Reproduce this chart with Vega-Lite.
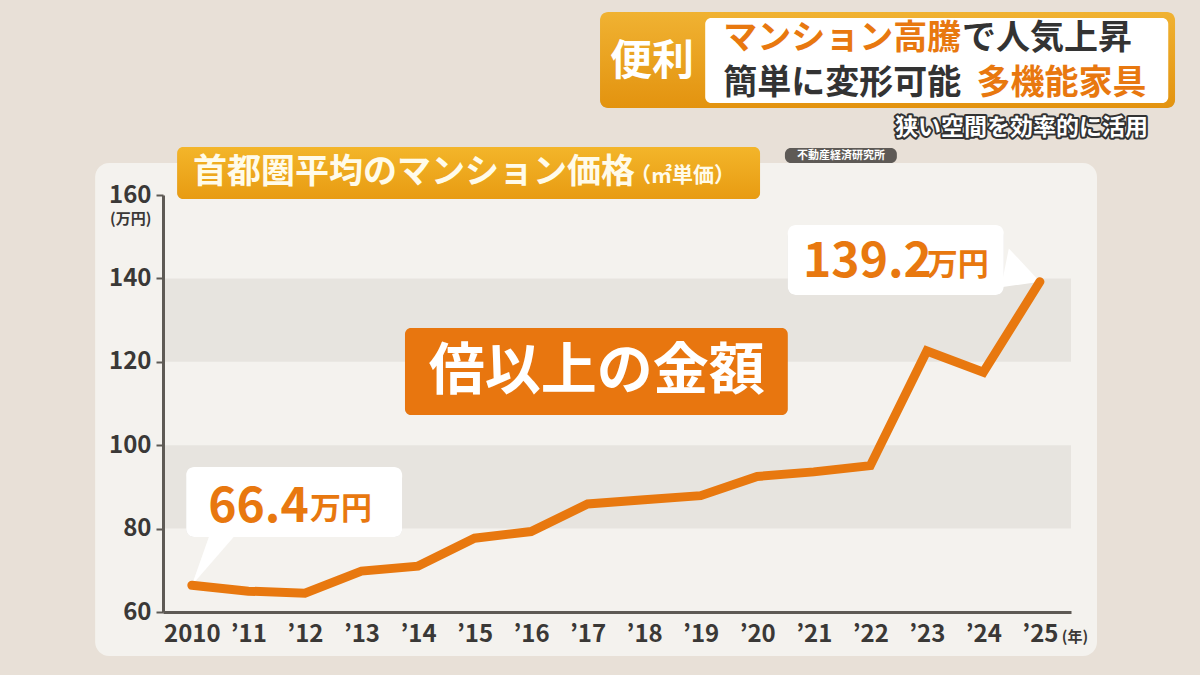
{
  "$schema": "https://vega.github.io/schema/vega-lite/v6.json",
  "width": 908,
  "height": 417,
  "autosize": {"type": "none"},
  "padding": {"left": 163, "top": 195, "right": 129, "bottom": 63},
  "background": "#e8e0d7",
  "config": {"view": {"stroke": null}, "font": "Noto Sans CJK JP"},
  "resolve": {"axis": {"x": "independent", "y": "independent"}},
  "datasets": {
    "price": [
      {"year": 2010, "price": 66.4},
      {"year": 2011, "price": 65.0},
      {"year": 2012, "price": 64.5},
      {"year": 2013, "price": 69.8},
      {"year": 2014, "price": 71.0},
      {"year": 2015, "price": 77.7},
      {"year": 2016, "price": 79.3},
      {"year": 2017, "price": 85.9},
      {"year": 2018, "price": 86.9},
      {"year": 2019, "price": 87.9},
      {"year": 2020, "price": 92.5},
      {"year": 2021, "price": 93.6},
      {"year": 2022, "price": 95.1},
      {"year": 2023, "price": 122.6},
      {"year": 2024, "price": 117.5},
      {"year": 2025, "price": 139.2}
    ],
    "bands": [{"lo": 80, "hi": 100}, {"lo": 120, "hi": 140}],
    "one": [{}]
  },
  "layer": [
    {
      "data": {"name": "one"},
      "mark": {"type": "rect", "color": "#f4f2ee", "cornerRadius": 14},
      "encoding": {
        "x": {"datum": 2008.29, "type": "quantitative", "axis": null},
        "x2": {"datum": 2026.01},
        "y": {"datum": 167.67, "type": "quantitative", "axis": null},
        "y2": {"datum": 49.45}
      }
    },
    {
      "data": {"name": "bands"},
      "mark": {"type": "rect", "color": "#e7e4df"},
      "encoding": {
        "y": {"field": "lo", "type": "quantitative", "axis": null},
        "y2": {"field": "hi"}
      }
    },
    {
      "data": {"name": "one"},
      "mark": {"type": "rect", "color": "#000000", "opacity": 0.12, "cornerRadius": 6, "yOffset": 3},
      "encoding": {
        "x": {"datum": 2009.74, "type": "quantitative", "axis": null},
        "x2": {"datum": 2020.05},
        "y": {"datum": 171.51, "type": "quantitative", "axis": null},
        "y2": {"datum": 159.04}
      }
    },
    {
      "data": {"name": "one"},
      "mark": {"type": "rect", "cornerRadius": 6, "color": {"gradient": "linear", "x1": 0, "y1": 0, "x2": 0, "y2": 1, "stops": [{"offset": 0, "color": "#f3b52a"}, {"offset": 1, "color": "#e89b12"}]}},
      "encoding": {
        "x": {"datum": 2009.74, "type": "quantitative", "axis": null},
        "x2": {"datum": 2020.05},
        "y": {"datum": 171.51, "type": "quantitative", "axis": null},
        "y2": {"datum": 159.04}
      }
    },
    {
      "data": {"name": "one"},
      "mark": {"type": "text", "text": "首都圏平均のマンション価格", "align": "left", "baseline": "middle", "fontSize": 34, "fontWeight": "bold", "color": "#fffbea"},
      "encoding": {
        "x": {"datum": 2010.02, "type": "quantitative", "axis": null},
        "y": {"datum": 165.28, "type": "quantitative", "axis": null}
      }
    },
    {
      "data": {"name": "one"},
      "mark": {"type": "text", "text": "（㎡単価）", "align": "left", "baseline": "middle", "fontSize": 21, "fontWeight": "bold", "color": "#fffbea"},
      "encoding": {
        "x": {"datum": 2017.75, "type": "quantitative", "axis": null},
        "y": {"datum": 164.56, "type": "quantitative", "axis": null}
      }
    },
    {
      "data": {"name": "one"},
      "mark": {"type": "rect", "color": "#5e5a56", "cornerRadius": 6},
      "encoding": {
        "x": {"datum": 2020.49, "type": "quantitative", "axis": null},
        "x2": {"datum": 2022.47},
        "y": {"datum": 171.27, "type": "quantitative", "axis": null},
        "y2": {"datum": 167.67}
      }
    },
    {
      "data": {"name": "one"},
      "mark": {"type": "text", "text": "不動産経済研究所", "align": "center", "baseline": "middle", "fontSize": 11, "fontWeight": "bold", "color": "#ffffff"},
      "encoding": {
        "x": {"datum": 2021.48, "type": "quantitative", "axis": null},
        "y": {"datum": 169.47, "type": "quantitative", "axis": null}
      }
    },
    {
      "data": {"name": "one"},
      "mark": {"type": "rect", "color": "#000000", "opacity": 0.1, "cornerRadius": 8, "yOffset": 3},
      "encoding": {
        "x": {"datum": 2009.9, "type": "quantitative", "axis": null},
        "x2": {"datum": 2013.72},
        "y": {"datum": 94.77, "type": "quantitative", "axis": null},
        "y2": {"datum": 77.99}
      }
    },
    {
      "data": {"name": "one"},
      "mark": {"type": "rect", "color": "#000000", "opacity": 0.1, "cornerRadius": 8, "yOffset": 3},
      "encoding": {
        "x": {"datum": 2020.54, "type": "quantitative", "axis": null},
        "x2": {"datum": 2024.36},
        "y": {"datum": 152.81, "type": "quantitative", "axis": null},
        "y2": {"datum": 136.02}
      }
    },
    {
      "data": {"name": "one"},
      "mark": {"type": "point", "filled": true, "color": "#ffffff", "opacity": 1, "strokeWidth": 0, "size": 8464, "shape": "M0,0 L0.37,-1.05 L0.91,-1.05 Z"},
      "encoding": {
        "x": {"datum": 2010, "type": "quantitative", "axis": null},
        "y": {"datum": 66.4, "type": "quantitative", "axis": null}
      }
    },
    {
      "data": {"name": "one"},
      "mark": {"type": "point", "filled": true, "color": "#ffffff", "opacity": 1, "strokeWidth": 0, "size": 5476, "shape": "M0,0 L-0.84,-0.9 L-1.05,0.15 Z"},
      "encoding": {
        "x": {"datum": 2025, "type": "quantitative", "axis": null},
        "y": {"datum": 139.2, "type": "quantitative", "axis": null}
      }
    },
    {
      "data": {"name": "one"},
      "mark": {"type": "rect", "color": "#ffffff", "cornerRadius": 8},
      "encoding": {
        "x": {"datum": 2009.9, "type": "quantitative", "axis": null},
        "x2": {"datum": 2013.72},
        "y": {"datum": 94.77, "type": "quantitative", "axis": null},
        "y2": {"datum": 77.99}
      }
    },
    {
      "data": {"name": "one"},
      "mark": {"type": "rect", "color": "#ffffff", "cornerRadius": 8},
      "encoding": {
        "x": {"datum": 2020.54, "type": "quantitative", "axis": null},
        "x2": {"datum": 2024.36},
        "y": {"datum": 152.81, "type": "quantitative", "axis": null},
        "y2": {"datum": 136.02}
      }
    },
    {
      "data": {"name": "price"},
      "mark": {"type": "line", "color": "#e8780f", "strokeWidth": 9, "strokeCap": "round", "strokeJoin": "miter"},
      "encoding": {
        "x": {
          "field": "year",
          "type": "quantitative",
          "scale": {"domain": [2009.49, 2025.55], "nice": false, "zero": false},
          "axis": {
            "zindex": 1,
            "values": [2010, 2011, 2012, 2013, 2014, 2015, 2016, 2017, 2018, 2019, 2020, 2021, 2022, 2023, 2024, 2025],
            "labelExpr": "datum.value == 2010 ? '2010' : '’' + substring(toString(datum.value), 2, 4)",
            "title": null,
            "grid": false,
            "ticks": false,
            "domainColor": "#5e5a55",
            "domainWidth": 3,
            "labelFontSize": 24,
            "labelFontWeight": "bold",
            "labelColor": "#3a3836",
            "labelPadding": 10,
            "labelFlush": false,
            "labelOverlap": false
          }
        },
        "y": {
          "field": "price",
          "type": "quantitative",
          "scale": {"domain": [60, 160], "nice": false, "zero": false},
          "axis": {
            "zindex": 1,
            "values": [60, 80, 100, 120, 140, 160],
            "title": null,
            "grid": false,
            "tickColor": "#5e5a55",
            "tickSize": 7,
            "tickWidth": 2,
            "domainColor": "#5e5a55",
            "domainWidth": 3,
            "labelFontSize": 24,
            "labelFontWeight": "bold",
            "labelColor": "#3a3836",
            "labelPadding": 5,
            "labelFlush": false,
            "labelOverlap": false
          }
        }
      }
    },
    {
      "data": {"name": "one"},
      "mark": {"type": "text", "text": "(万円)", "align": "center", "baseline": "middle", "fontSize": 15, "fontWeight": "bold", "color": "#3a3836"},
      "encoding": {
        "x": {"datum": 2008.92, "type": "quantitative", "axis": null},
        "y": {"datum": 154.2, "type": "quantitative", "axis": null}
      }
    },
    {
      "data": {"name": "one"},
      "mark": {"type": "text", "text": "(年)", "align": "center", "baseline": "middle", "fontSize": 15, "fontWeight": "bold", "color": "#3a3836"},
      "encoding": {
        "x": {"datum": 2025.62, "type": "quantitative", "axis": null},
        "y": {"datum": 54.0, "type": "quantitative", "axis": null}
      }
    },
    {
      "data": {"name": "one"},
      "mark": {"type": "text", "text": "66.4", "align": "left", "baseline": "alphabetic", "fontSize": 48, "fontWeight": "bold", "letterSpacing": -1, "color": "#e8780f"},
      "encoding": {
        "x": {"datum": 2010.29, "type": "quantitative", "axis": null},
        "y": {"datum": 81.58, "type": "quantitative", "axis": null}
      }
    },
    {
      "data": {"name": "one"},
      "mark": {"type": "text", "text": "万円", "align": "left", "baseline": "alphabetic", "fontSize": 31, "fontWeight": "bold", "color": "#e8780f"},
      "encoding": {
        "x": {"datum": 2012.09, "type": "quantitative", "axis": null},
        "y": {"datum": 82.3, "type": "quantitative", "axis": null}
      }
    },
    {
      "data": {"name": "one"},
      "mark": {"type": "text", "text": "139.2", "align": "left", "baseline": "alphabetic", "fontSize": 48, "fontWeight": "bold", "letterSpacing": -3, "color": "#e8780f"},
      "encoding": {
        "x": {"datum": 2020.81, "type": "quantitative", "axis": null},
        "y": {"datum": 140.34, "type": "quantitative", "axis": null}
      }
    },
    {
      "data": {"name": "one"},
      "mark": {"type": "text", "text": "万円", "align": "left", "baseline": "alphabetic", "fontSize": 31, "fontWeight": "bold", "color": "#e8780f"},
      "encoding": {
        "x": {"datum": 2023.0, "type": "quantitative", "axis": null},
        "y": {"datum": 140.8, "type": "quantitative", "axis": null}
      }
    },
    {
      "data": {"name": "one"},
      "mark": {"type": "rect", "color": "#000000", "opacity": 0.15, "cornerRadius": 6, "yOffset": 3},
      "encoding": {
        "x": {"datum": 2013.77, "type": "quantitative", "axis": null},
        "x2": {"datum": 2020.54},
        "y": {"datum": 128.11, "type": "quantitative", "axis": null},
        "y2": {"datum": 107.24}
      }
    },
    {
      "data": {"name": "one"},
      "mark": {"type": "rect", "color": "#e8760f", "cornerRadius": 6},
      "encoding": {
        "x": {"datum": 2013.77, "type": "quantitative", "axis": null},
        "x2": {"datum": 2020.54},
        "y": {"datum": 128.11, "type": "quantitative", "axis": null},
        "y2": {"datum": 107.24}
      }
    },
    {
      "data": {"name": "one"},
      "mark": {"type": "text", "text": "倍以上の金額", "align": "center", "baseline": "middle", "fontSize": 56, "fontWeight": "bold", "color": "#ffffff"},
      "encoding": {
        "x": {"datum": 2017.16, "type": "quantitative", "axis": null},
        "y": {"datum": 117.55, "type": "quantitative", "axis": null}
      }
    },
    {
      "data": {"name": "one"},
      "mark": {"type": "rect", "color": "#000000", "opacity": 0.15, "cornerRadius": 8, "yOffset": 3},
      "encoding": {
        "x": {"datum": 2017.22, "type": "quantitative", "axis": null},
        "x2": {"datum": 2027.39},
        "y": {"datum": 203.88, "type": "quantitative", "axis": null},
        "y2": {"datum": 180.86}
      }
    },
    {
      "data": {"name": "one"},
      "mark": {"type": "rect", "cornerRadius": 8, "color": {"gradient": "linear", "x1": 0, "y1": 0, "x2": 0, "y2": 1, "stops": [{"offset": 0, "color": "#f0b232"}, {"offset": 1, "color": "#e3930f"}]}},
      "encoding": {
        "x": {"datum": 2017.22, "type": "quantitative", "axis": null},
        "x2": {"datum": 2027.39},
        "y": {"datum": 203.88, "type": "quantitative", "axis": null},
        "y2": {"datum": 180.86}
      }
    },
    {
      "data": {"name": "one"},
      "mark": {"type": "rect", "color": "#ffffff", "cornerRadius": 6},
      "encoding": {
        "x": {"datum": 2019.08, "type": "quantitative", "axis": null},
        "x2": {"datum": 2027.27},
        "y": {"datum": 202.45, "type": "quantitative", "axis": null},
        "y2": {"datum": 182.06}
      }
    },
    {
      "data": {"name": "one"},
      "mark": {"type": "text", "text": "便利", "align": "center", "baseline": "middle", "fontSize": 42, "fontWeight": "bold", "color": "#ffffff"},
      "encoding": {
        "x": {"datum": 2018.14, "type": "quantitative", "axis": null},
        "y": {"datum": 191.9, "type": "quantitative", "axis": null}
      }
    },
    {
      "data": {"name": "one"},
      "mark": {"type": "text", "text": "マンション高騰", "align": "left", "baseline": "middle", "fontSize": 34, "fontWeight": "bold", "color": "#e8780f"},
      "encoding": {
        "x": {"datum": 2019.4, "type": "quantitative", "axis": null},
        "y": {"datum": 197.41, "type": "quantitative", "axis": null}
      }
    },
    {
      "data": {"name": "one"},
      "mark": {"type": "text", "text": "で人気上昇", "align": "left", "baseline": "middle", "fontSize": 34, "fontWeight": "bold", "color": "#333333"},
      "encoding": {
        "x": {"datum": 2023.62, "type": "quantitative", "axis": null},
        "y": {"datum": 197.41, "type": "quantitative", "axis": null}
      }
    },
    {
      "data": {"name": "one"},
      "mark": {"type": "text", "text": "簡単に変形可能", "align": "left", "baseline": "middle", "fontSize": 34, "fontWeight": "bold", "color": "#333333"},
      "encoding": {
        "x": {"datum": 2019.4, "type": "quantitative", "axis": null},
        "y": {"datum": 186.62, "type": "quantitative", "axis": null}
      }
    },
    {
      "data": {"name": "one"},
      "mark": {"type": "text", "text": "多機能家具", "align": "left", "baseline": "middle", "fontSize": 34, "fontWeight": "bold", "color": "#e8780f"},
      "encoding": {
        "x": {"datum": 2023.88, "type": "quantitative", "axis": null},
        "y": {"datum": 186.62, "type": "quantitative", "axis": null}
      }
    },
    {
      "data": {"name": "one"},
      "mark": {"type": "text", "text": "狭い空間を効率的に活用", "align": "right", "baseline": "middle", "fontSize": 23, "fontWeight": "bold", "color": "#333333", "stroke": "#333333", "strokeWidth": 4, "strokeJoin": "round"},
      "encoding": {
        "x": {"datum": 2026.91, "type": "quantitative", "axis": null},
        "y": {"datum": 176.07, "type": "quantitative", "axis": null}
      }
    },
    {
      "data": {"name": "one"},
      "mark": {"type": "text", "text": "狭い空間を効率的に活用", "align": "right", "baseline": "middle", "fontSize": 23, "fontWeight": "bold", "color": "#ffffff"},
      "encoding": {
        "x": {"datum": 2026.91, "type": "quantitative", "axis": null},
        "y": {"datum": 176.07, "type": "quantitative", "axis": null}
      }
    }
  ]
}
